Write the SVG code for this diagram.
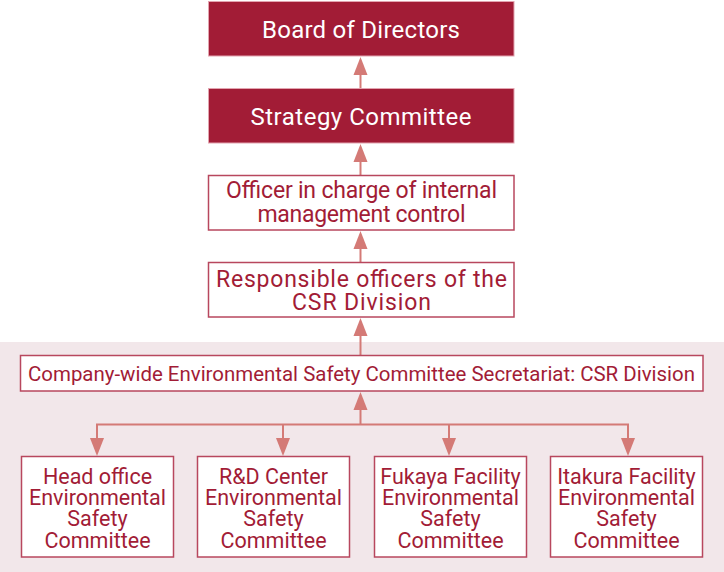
<svg xmlns="http://www.w3.org/2000/svg" width="724" height="572" viewBox="0 0 724 572">
<style>
.dark{fill:#A21C36;stroke:#E3A4B0;stroke-width:1}
.box{fill:#FFFFFF;stroke:#B8475E;stroke-width:1.5}
.tw{font-family:Roboto,"Liberation Sans",sans-serif;font-size:24px;fill:#FFFFFF;text-anchor:middle}
.tr{font-family:Roboto,"Liberation Sans",sans-serif;font-size:23px;fill:#A21C36;text-anchor:middle}
.ts{font-family:Roboto,"Liberation Sans",sans-serif;font-size:21px;fill:#A21C36;text-anchor:middle}
.tb{font-family:Roboto,"Liberation Sans",sans-serif;font-size:21.5px;fill:#A21C36;text-anchor:middle}
.ln{stroke:#D47A76;stroke-width:2;fill:none}
.ah{fill:#D47A76}
</style>
<rect x="0" y="342" width="724" height="230" fill="#F2E7EA"/>
<g id="connectors">
<line class="ln" x1="360.5" y1="88" x2="360.5" y2="72"/>
<polygon class="ah" points="360.5,57 353.5,75 367.5,75"/>
<line class="ln" x1="360.5" y1="175" x2="360.5" y2="159"/>
<polygon class="ah" points="360.5,144 353.5,162 367.5,162"/>
<line class="ln" x1="360.5" y1="262" x2="360.5" y2="246"/>
<polygon class="ah" points="360.5,231 353.5,249 367.5,249"/>
<line class="ln" x1="360.5" y1="355" x2="360.5" y2="333"/>
<polygon class="ah" points="360.5,318 353.5,336 367.5,336"/>
<line class="ln" x1="360.5" y1="425" x2="360.5" y2="407"/>
<polygon class="ah" points="360.5,392 353.5,410 367.5,410"/>
<polyline class="ln" points="97,441 97,424.5 628,424.5 628,441"/>
<line class="ln" x1="283" y1="424.5" x2="283" y2="441"/>
<line class="ln" x1="449" y1="424.5" x2="449" y2="441"/>
<polygon class="ah" points="97,456 90,438 104,438"/>
<polygon class="ah" points="283,456 276,438 290,438"/>
<polygon class="ah" points="449,456 442,438 456,438"/>
<polygon class="ah" points="628,456 621,438 635,438"/>
</g>
<g id="board">
<rect class="dark" x="208.5" y="1.5" width="305.5" height="54.5"/>
<text class="tw" x="361" y="37.5" textLength="198">Board of Directors</text>
</g>
<g id="strategy">
<rect class="dark" x="208.5" y="88.5" width="305.5" height="54.5"/>
<text class="tw" x="361" y="124.5" textLength="221">Strategy Committee</text>
</g>
<g id="officer">
<rect class="box" x="208.5" y="175.5" width="305.5" height="54.5"/>
<text class="tr" x="361.5" y="198" textLength="271">Officer in charge of internal</text>
<text class="tr" x="361.5" y="222" textLength="208">management control</text>
</g>
<g id="responsible">
<rect class="box" x="208.5" y="262.5" width="305.5" height="54.5"/>
<text class="tr" x="361.5" y="287" textLength="291">Responsible officers of the</text>
<text class="tr" x="361.5" y="310" textLength="139">CSR Division</text>
</g>
<g id="secretariat">
<rect class="box" x="20.5" y="355.5" width="682.5" height="35.5"/>
<text class="ts" x="361.5" y="381" textLength="667" lengthAdjust="spacingAndGlyphs">Company-wide Environmental Safety Committee Secretariat: CSR Division</text>
</g>
<g id="head">
<rect class="box" x="21.5" y="456.5" width="152" height="100.5"/>
<text class="tb" x="97.5" y="483.5">Head office</text>
<text class="tb" x="97.5" y="504.5">Environmental</text>
<text class="tb" x="97.5" y="526">Safety</text>
<text class="tb" x="97.5" y="547.5">Committee</text>
</g>
<g id="rnd">
<rect class="box" x="197.5" y="456.5" width="152" height="100.5"/>
<text class="tb" x="273.5" y="483.5">R&amp;D Center</text>
<text class="tb" x="273.5" y="504.5">Environmental</text>
<text class="tb" x="273.5" y="526">Safety</text>
<text class="tb" x="273.5" y="547.5">Committee</text>
</g>
<g id="fukaya">
<rect class="box" x="374.5" y="456.5" width="152" height="100.5"/>
<text class="tb" x="450.5" y="483.5">Fukaya Facility</text>
<text class="tb" x="450.5" y="504.5">Environmental</text>
<text class="tb" x="450.5" y="526">Safety</text>
<text class="tb" x="450.5" y="547.5">Committee</text>
</g>
<g id="itakura">
<rect class="box" x="550.5" y="456.5" width="152" height="100.5"/>
<text class="tb" x="626.5" y="483.5">Itakura Facility</text>
<text class="tb" x="626.5" y="504.5">Environmental</text>
<text class="tb" x="626.5" y="526">Safety</text>
<text class="tb" x="626.5" y="547.5">Committee</text>
</g>
</svg>
